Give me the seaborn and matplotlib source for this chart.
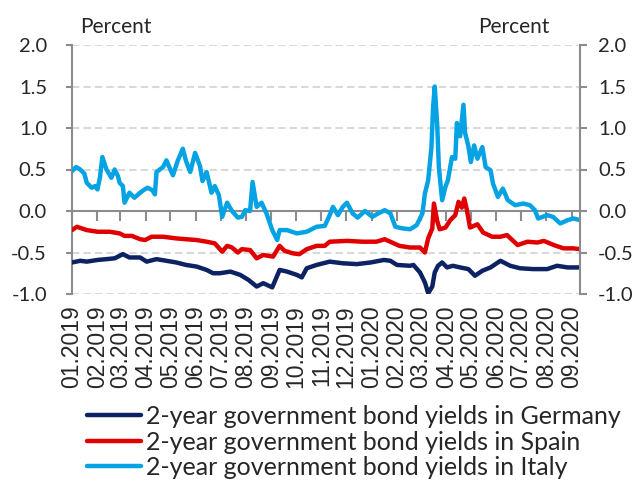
import pandas as pd
import matplotlib.pyplot as plt
import seaborn as sns

# 2-year government bond yields, percent
germany_dates = [
    "2019-01-01", "2019-01-11", "2019-01-19", "2019-02-01", "2019-02-12", "2019-02-22",
    "2019-03-04", "2019-03-12", "2019-03-25", "2019-04-02", "2019-04-14", "2019-04-26",
    "2019-05-08", "2019-05-20", "2019-06-02", "2019-06-14", "2019-06-22", "2019-06-30",
    "2019-07-13", "2019-07-25", "2019-08-04", "2019-08-14", "2019-08-22", "2019-09-02",
    "2019-09-11", "2019-09-20", "2019-10-02", "2019-10-08", "2019-10-14", "2019-10-26",
    "2019-11-11", "2019-11-27", "2019-12-14", "2019-12-31", "2020-01-16", "2020-01-24",
    "2020-02-01", "2020-02-17", "2020-02-21", "2020-02-29", "2020-03-06", "2020-03-10",
    "2020-03-15", "2020-03-18", "2020-03-22", "2020-03-27", "2020-04-02", "2020-04-09",
    "2020-04-18", "2020-04-28", "2020-05-06", "2020-05-15", "2020-05-25", "2020-06-06",
    "2020-06-18", "2020-06-30", "2020-07-16", "2020-08-02", "2020-08-14", "2020-08-27",
    "2020-09-11",
]
germany_yield = [
    -0.62, -0.60, -0.61, -0.59, -0.58, -0.57,
    -0.52, -0.56, -0.56, -0.61, -0.58, -0.60,
    -0.62, -0.65, -0.67, -0.71, -0.75, -0.75,
    -0.73, -0.77, -0.83, -0.91, -0.87, -0.92,
    -0.71, -0.73, -0.77, -0.80, -0.69, -0.65,
    -0.61, -0.63, -0.64, -0.62, -0.59, -0.60,
    -0.65, -0.66, -0.65, -0.74, -0.86, -0.99,
    -0.91, -0.74, -0.66, -0.62, -0.68, -0.66,
    -0.68, -0.70, -0.78, -0.72, -0.68, -0.60,
    -0.66, -0.69, -0.70, -0.70, -0.66, -0.68,
    -0.68,
]

spain_dates = [
    "2019-01-01", "2019-01-07", "2019-01-19", "2019-02-01", "2019-02-16", "2019-02-28",
    "2019-03-06", "2019-03-15", "2019-03-25", "2019-03-31", "2019-04-08", "2019-04-22",
    "2019-05-08", "2019-05-20", "2019-06-02", "2019-06-14", "2019-06-24", "2019-07-03",
    "2019-07-09", "2019-07-15", "2019-07-22", "2019-07-27", "2019-08-06", "2019-08-14",
    "2019-08-22", "2019-09-03", "2019-09-11", "2019-09-17", "2019-09-27", "2019-10-05",
    "2019-10-14", "2019-10-26", "2019-11-05", "2019-11-11", "2019-12-02", "2019-12-21",
    "2020-01-07", "2020-01-17", "2020-01-26", "2020-02-04", "2020-02-17", "2020-02-29",
    "2020-03-06", "2020-03-10", "2020-03-15", "2020-03-17", "2020-03-21", "2020-03-24",
    "2020-03-31", "2020-04-06", "2020-04-12", "2020-04-16", "2020-04-20", "2020-04-23",
    "2020-04-26", "2020-04-30", "2020-05-09", "2020-05-16", "2020-05-27", "2020-06-06",
    "2020-06-14", "2020-06-27", "2020-07-09", "2020-07-21", "2020-07-29", "2020-08-10",
    "2020-08-22", "2020-09-03", "2020-09-11",
]
spain_yield = [
    -0.23, -0.19, -0.23, -0.25, -0.25, -0.27,
    -0.30, -0.30, -0.34, -0.35, -0.31, -0.31,
    -0.33, -0.34, -0.35, -0.37, -0.39, -0.49,
    -0.42, -0.44, -0.50, -0.46, -0.47, -0.57,
    -0.53, -0.55, -0.42, -0.48, -0.51, -0.52,
    -0.46, -0.42, -0.42, -0.37, -0.36, -0.37,
    -0.37, -0.34, -0.38, -0.42, -0.44, -0.44,
    -0.50, -0.33, -0.21, 0.09, -0.12, -0.22,
    -0.20, -0.11, -0.05, 0.11, 0.04, 0.15,
    0.02, -0.20, -0.16, -0.26, -0.31, -0.31,
    -0.29, -0.41, -0.37, -0.38, -0.36, -0.41,
    -0.45, -0.45, -0.46,
]

italy_dates = [
    "2019-01-01", "2019-01-06", "2019-01-11", "2019-01-16", "2019-01-19", "2019-01-25",
    "2019-01-29", "2019-02-01", "2019-02-04", "2019-02-07", "2019-02-12", "2019-02-18",
    "2019-02-22", "2019-02-26", "2019-02-28", "2019-03-04", "2019-03-06", "2019-03-12",
    "2019-03-18", "2019-03-25", "2019-03-29", "2019-04-03", "2019-04-09", "2019-04-12",
    "2019-04-14", "2019-04-22", "2019-04-26", "2019-04-30", "2019-05-04", "2019-05-10",
    "2019-05-16", "2019-05-20", "2019-05-25", "2019-05-31", "2019-06-06", "2019-06-09",
    "2019-06-14", "2019-06-20", "2019-06-24", "2019-06-29", "2019-07-03", "2019-07-09",
    "2019-07-15", "2019-07-22", "2019-07-27", "2019-07-31", "2019-08-06", "2019-08-09",
    "2019-08-14", "2019-08-20", "2019-08-26", "2019-09-02", "2019-09-08", "2019-09-11",
    "2019-09-20", "2019-10-02", "2019-10-14", "2019-10-26", "2019-11-05", "2019-11-11",
    "2019-11-15", "2019-11-21", "2019-11-27", "2019-12-02", "2019-12-09", "2019-12-15",
    "2019-12-24", "2020-01-02", "2020-01-09", "2020-01-17", "2020-01-24", "2020-01-30",
    "2020-02-08", "2020-02-17", "2020-02-25", "2020-03-03", "2020-03-06", "2020-03-10",
    "2020-03-14", "2020-03-16", "2020-03-18", "2020-03-21", "2020-03-23", "2020-03-27",
    "2020-03-31", "2020-04-03", "2020-04-08", "2020-04-12", "2020-04-14", "2020-04-18",
    "2020-04-22", "2020-04-24", "2020-04-28", "2020-05-01", "2020-05-05", "2020-05-09",
    "2020-05-15", "2020-05-19", "2020-05-25", "2020-05-28", "2020-06-03", "2020-06-09",
    "2020-06-15", "2020-06-24", "2020-07-04", "2020-07-12", "2020-07-18", "2020-07-22",
    "2020-08-02", "2020-08-09", "2020-08-18", "2020-08-27", "2020-09-03", "2020-09-11",
]
italy_yield = [
    0.48, 0.53, 0.50, 0.45, 0.34, 0.28,
    0.30, 0.26, 0.40, 0.65, 0.50, 0.40,
    0.50, 0.42, 0.34, 0.30, 0.10, 0.22,
    0.16, 0.22, 0.25, 0.28, 0.25, 0.20,
    0.47, 0.53, 0.61, 0.52, 0.43, 0.61,
    0.75, 0.60, 0.47, 0.70, 0.54, 0.36,
    0.47, 0.22, 0.30, 0.19, -0.07, 0.10,
    0.00, -0.08, -0.07, 0.01, 0.00, 0.35,
    0.05, 0.10, -0.03, -0.23, -0.35, -0.23,
    -0.23, -0.27, -0.25, -0.19, -0.18, -0.05,
    0.05, -0.05, 0.05, 0.10, -0.03, -0.08,
    0.00, -0.07, -0.03, 0.01, -0.03, -0.19,
    -0.21, -0.22, -0.17, -0.03, 0.21, 0.37,
    0.77, 1.25, 1.50, 1.04, 0.53, 0.13,
    0.29, 0.37, 0.65, 0.63, 1.06, 0.90,
    1.28, 0.94, 0.78, 0.59, 0.79, 0.63,
    0.77, 0.53, 0.49, 0.33, 0.17, 0.27,
    0.13, 0.07, 0.09, 0.07, 0.01, -0.09,
    -0.05, -0.07, -0.15, -0.11, -0.09, -0.11,
]

series_names = [
    "2-year government bond yields in Germany",
    "2-year government bond yields in Spain",
    "2-year government bond yields in Italy",
]
series_colors = ["#0C2262", "#E00000", "#05A3E3"]
y_ticks = [-1.0, -0.5, 0.0, 0.5, 1.0, 1.5, 2.0]
month_ticks = pd.date_range("2019-01-01", "2020-09-01", freq="MS")

sns.set_style("white")
plt.rcParams["font.family"] = ["Lato", "DejaVu Sans"]

frames = []
for name, d, v in zip(series_names,
                      [germany_dates, spain_dates, italy_dates],
                      [germany_yield, spain_yield, italy_yield]):
    frames.append(pd.DataFrame({"date": pd.to_datetime(d), "value": v, "series": name}))
df = pd.concat(frames, ignore_index=True)

fig = plt.figure(figsize=(6.41, 4.82), dpi=100)
ax = fig.add_axes([72 / 641, 1 - 294 / 482, 508 / 641, 249 / 482])

sns.lineplot(data=df, x="date", y="value", hue="series", hue_order=series_names,
             palette=dict(zip(series_names, series_colors)), linewidth=3.2,
             estimator=None, legend=False, ax=ax, zorder=3)

ax.set_xlim(pd.Timestamp("2019-01-01"), pd.Timestamp("2020-09-11"))
ax.set_ylim(-1.0, 2.0)
ax.set_xlabel("")
ax.set_ylabel("")

# dashed grid, solid zero line
grey = "#8C8C8C"
for v in y_ticks:
    if v != 0.0:
        ax.axhline(v, color="#D9D9D9", lw=1.5, ls=(0, (3.5, 2)), zorder=0)

sec = ax.secondary_xaxis(1 / 3)
sec.set_xticks(month_ticks)
sec.tick_params(axis="x", direction="out", length=7, width=1.5, color=grey,
                labelbottom=False, labeltop=False)
for s in sec.spines.values():
    s.set_color(grey)
    s.set_linewidth(1.5)

# month labels along the bottom
ax.set_xticks(month_ticks)
ax.set_xticklabels([d.strftime("%m.%Y") for d in month_ticks], rotation=90,
                   fontsize=16.5, family=["Liberation Sans", "DejaVu Sans"])
ax.tick_params(axis="x", length=0, pad=8)

for side in ["top", "bottom"]:
    ax.spines[side].set_visible(False)
ax.spines["left"].set_color(grey)
ax.spines["left"].set_linewidth(1.5)
ax.spines["right"].set_visible(False)

ax.set_yticks(y_ticks)
ax.set_yticklabels([f"{v:.1f}" for v in y_ticks])
ax.tick_params(axis="y", direction="out", length=4, width=1.5, color=grey,
               labelsize=14.5, pad=14)

ax2 = ax.twinx()
ax2.set_ylim(ax.get_ylim())
ax2.set_yticks(y_ticks)
ax2.set_yticklabels([f"{v:.1f}" for v in y_ticks])
ax2.tick_params(axis="y", direction="out", length=5, width=1.5, color=grey,
                labelsize=14.5, pad=8)
for side in ["top", "bottom", "left"]:
    ax2.spines[side].set_visible(False)
ax2.spines["right"].set_color(grey)
ax2.spines["right"].set_linewidth(1.5)

fig.text(80 / 641, 1 - 27 / 482, "Percent", fontsize=15, ha="left", va="center")
fig.text(550 / 641, 1 - 27 / 482, "Percent", fontsize=15, ha="right", va="center")

ax.legend(ax.get_lines()[:3], series_names, loc="upper left",
          bbox_to_anchor=(87 / 641, 1 - 405 / 482), bbox_transform=fig.transFigure,
          frameon=False, fontsize=18, handlelength=2.15, handletextpad=0.2,
          labelspacing=0.1, borderaxespad=0, borderpad=0)

fig.savefig("out.png", dpi=100)
